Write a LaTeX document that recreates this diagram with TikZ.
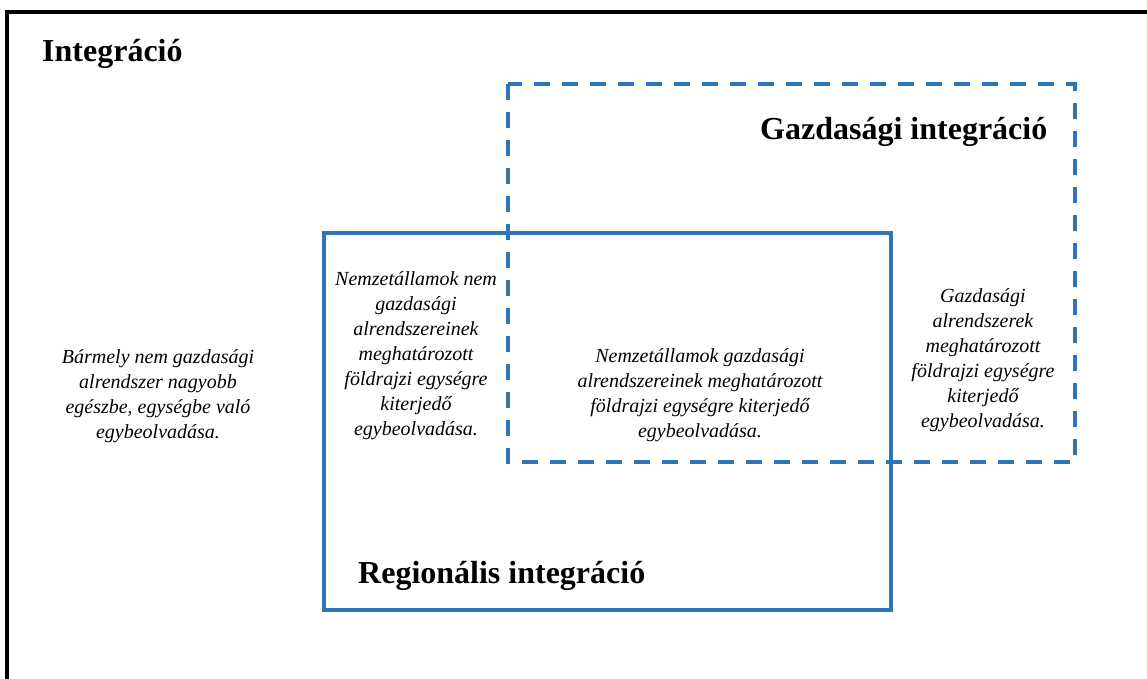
\documentclass[tikz,border=0pt]{standalone}
\usepackage{fontspec}
\setmainfont{Liberation Serif}
\usetikzlibrary{positioning}
\definecolor{wordblue}{RGB}{46,117,182}

\begin{document}
\begin{tikzpicture}[
		x=1pt, y=-1pt,
		frame/.style={draw=black, line width=4pt},
		regbox/.style={draw=wordblue, line width=4pt},
		ecobox/.style={draw=wordblue, line width=4pt, dash pattern=on 16pt off 12pt},
		title/.style={anchor=base west, inner sep=0pt, font=\fontsize{32}{36}\selectfont\bfseries},
		desc/.style={align=center, inner sep=0pt, font=\fontsize{20}{25}\selectfont\itshape}
		]
		
		\useasboundingbox (0,0) rectangle (1147,679);
		
		% outer frame
		\draw[frame] (7,679) |- (1147,12);
		
		% boxes
		\draw[ecobox] (508,84) rectangle (1075,462);
		\draw[regbox] (324,233) rectangle (891,610);
		
		% titles
		\node[title] (integr) at (42,62) {Integráció};
		\node[title] (gazd) at (760,140) {Gazdasági integráció};
		\node[title] (reg) at (358,583) {Regionális integráció};
		
		% descriptions
		\node[desc] (any) at (158,396) {Bármely nem gazdasági\\ alrendszer nagyobb\\ egészbe, egységbe való\\ egybeolvadása.};
		\node[desc] (noneco) at (416,356) {Nemzetállamok nem\\ gazdasági\\ alrendszereinek\\ meghatározott\\ földrajzi egységre\\ kiterjedő\\ egybeolvadása.};
		\node[desc] (both) at (700,395) {Nemzetállamok gazdasági\\ alrendszereinek meghatározott\\ földrajzi egységre kiterjedő\\ egybeolvadása.};
		\node[desc] (eco) at (983,360) {Gazdasági\\ alrendszerek\\ meghatározott\\ földrajzi egységre\\ kiterjedő\\ egybeolvadása.};
		
\end{tikzpicture}
\end{document}
